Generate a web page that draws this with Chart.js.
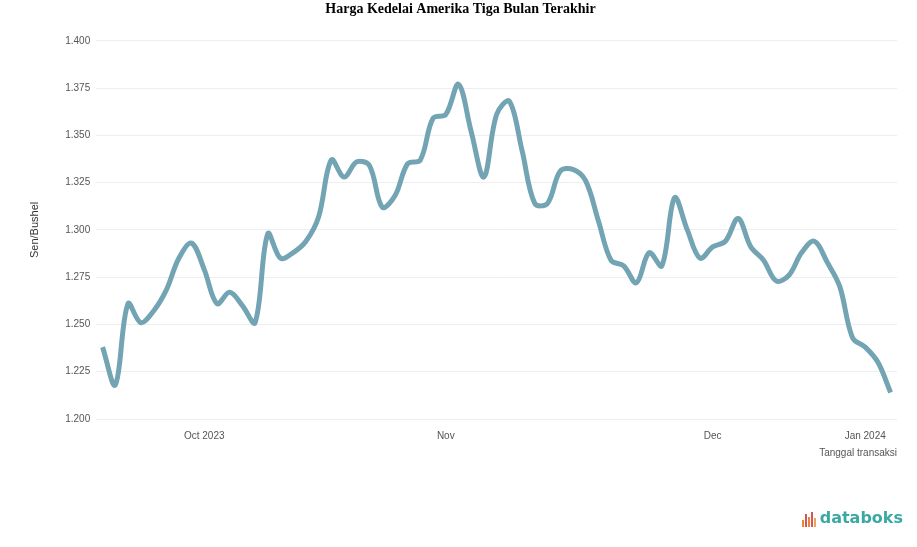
<!DOCTYPE html>
<html>
<head>
<meta charset="utf-8">
<script src="https://cdn.jsdelivr.net/npm/chart.js@4"></script>
<style>
  body { margin: 0; background: #fff; }
  #wrap { position: relative; width: 917px; height: 547px; }
  #logo { position: absolute; right: 14px; bottom: 20px; font: bold 16px "DejaVu Sans", sans-serif; color: #3aa9a4; display: flex; align-items: flex-end; }
  #logo .bars { display: flex; align-items: flex-end; margin-right: 3px; height: 16px; }
  #logo .bars span { display: inline-block; width: 2px; margin-right: 1px; }
</style>
</head>
<body>
<div id="wrap">
  <canvas id="priceCTX" width="917" height="547"></canvas>
  <div id="logo">
    <div class="bars">
      <span style="height:7px;background:#e8833a"></span>
      <span style="height:13px;background:#d9534f"></span>
      <span style="height:10px;background:#e8833a"></span>
      <span style="height:15px;background:#d9534f"></span>
      <span style="height:9px;background:#f0a35c"></span>
    </div>
    databoks
  </div>
</div>
<script>
// soybean price, one point per trading day
const prices = [
  1238, 1218, 1261, 1251, 1257, 1268, 1285, 1293, 1279, 1261,
  1267, 1260, 1251, 1298, 1285, 1288, 1294, 1307, 1337, 1328,
  1336, 1334, 1312, 1318, 1335, 1337, 1359, 1361, 1377, 1352,
  1328, 1361, 1368, 1342, 1314, 1314, 1331, 1332, 1326, 1305,
  1284, 1281, 1272, 1288, 1281, 1317, 1300, 1285, 1291, 1294,
  1306, 1291, 1284, 1273, 1276, 1288, 1294, 1283, 1270, 1243,
  1238, 1230, 1214,
];
const days = prices.map((v, i) => i);

const tickIndex = [8, 27, 48, 60];
const tickText = ["Oct 2023", "Nov", "Dec", "Jan 2024"];

const yMin = 1200;
const yMax = 1400;
const yStep = 25;

const priceWrapper = document.getElementById("priceCTX");

const priceData = {
  labels: days,
  datasets: [
    {
      label: "Harga kedelai",
      data: prices,
      borderColor: "#72a4b4",
      borderWidth: 5,
      pointRadius: 0,
      tension: 0.35,
      fill: false,
    },
  ],
};

const priceOptions = {
  responsive: false,
  animation: false,
  layout: {
    padding: { left: 24, right: 20, top: 0, bottom: 84 },
  },
  plugins: {
    legend: { display: false },
    tooltip: { enabled: false },
    title: {
      display: true,
      text: "Harga Kedelai Amerika Tiga Bulan Terakhir",
      color: "#000",
      font: { family: "Liberation Serif", size: 14, weight: "bold" },
      padding: { top: 1, bottom: 23 },
    },
  },
  scales: {
    x: {
      offset: true,
      grid: { display: false },
      border: { display: false },
      ticks: {
        autoSkip: false,
        maxRotation: 0,
        color: "#555",
        font: { family: "Liberation Sans", size: 10 },
        padding: 3,
        callback: function (val, i) {
          const k = tickIndex.indexOf(i);
          return k >= 0 ? tickText[k] : "";
        },
      },
      title: {
        display: true,
        text: "Tanggal transaksi",
        align: "end",
        color: "#555",
        font: { family: "Liberation Sans", size: 10 },
        padding: { top: 2 },
      },
    },
    y: {
      min: yMin,
      max: yMax,
      border: { display: false },
      grid: { color: "#eeeeee", drawTicks: false },
      ticks: {
        stepSize: yStep,
        color: "#555",
        padding: 6,
        font: { family: "Liberation Sans", size: 10 },
        callback: function (val) {
          return val.toLocaleString("id-ID");
        },
      },
      title: {
        display: true,
        text: "Sen/Bushel",
        color: "#333",
        font: { family: "Liberation Sans", size: 11 },
        padding: { bottom: 18 },
      },
    },
  },
};

const priceChart = new Chart(priceWrapper, {
  type: "line",
  data: priceData,
  options: priceOptions,
});
</script>
</body>
</html>
